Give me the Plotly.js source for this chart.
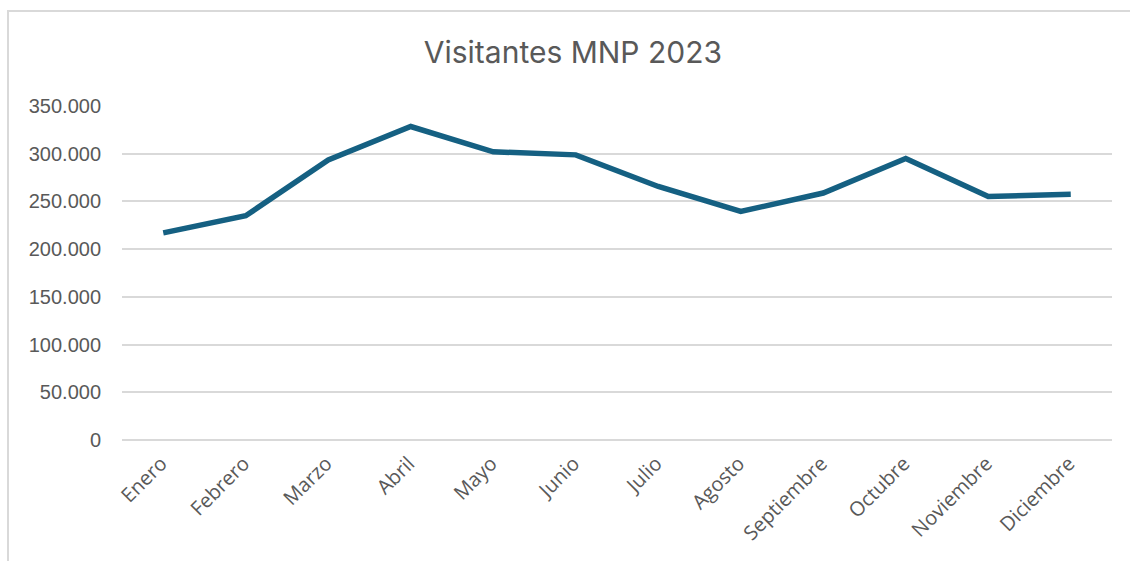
<!DOCTYPE html>
<html>
<head>
<meta charset="utf-8">
<script src="https://cdn.plot.ly/plotly-3.0.1.min.js"></script>
<style>
  html, body { margin: 0; padding: 0; background: #fff; }
  #wrap { position: relative; width: 1130px; height: 561px; overflow: hidden; }
  #frame { position: absolute; left: 7px; top: 10px; width: 1140px; height: 600px;
           border-left: 2px solid #d9d9d9; border-top: 2px solid #d9d9d9; pointer-events: none; }
  #chart { position: absolute; left: 0; top: 0; width: 1130px; height: 561px; }
</style>
</head>
<body>
<div id="wrap">
  <div id="chart"></div>
  <div id="frame"></div>
</div>
<script>
const months = ["Enero", "Febrero", "Marzo", "Abril", "Mayo", "Junio", "Julio",
                "Agosto", "Septiembre", "Octubre", "Noviembre", "Diciembre"];
const visitors = [217000, 235000, 293500, 328500, 302000, 298800, 265700,
                  239500, 258800, 295000, 255200, 257500];
const yTickVals = [0, 50000, 100000, 150000, 200000, 250000, 300000, 350000];
const yTickText = ["0", "50.000", "100.000", "150.000", "200.000", "250.000", "300.000", "350.000"];

const trace = {
  x: months,
  y: visitors,
  type: "scatter",
  mode: "lines",
  line: { color: "#156082", width: 5.5 },
  hoverinfo: "x+y"
};

const layout = {
  width: 1130,
  height: 561,
  margin: { l: 122, r: 18, t: 106, b: 121 },
  paper_bgcolor: "#ffffff",
  plot_bgcolor: "#ffffff",
  showlegend: false,
  title: {
    text: "Visitantes MNP 2023",
    font: { family: "Inter, 'Open Sans', sans-serif", size: 30, color: "#595959" },
    x: 0.507, xref: "container", xanchor: "center",
    y: 0.907, yref: "container", yanchor: "middle"
  },
  xaxis: {
    type: "category",
    range: [-0.5, 11.5],
    tickangle: -45,
    showgrid: false,
    showline: false,
    zeroline: false,
    ticks: "",
    ticklabelstandoff: 7,
    ticklabelshift: -2,
    tickfont: { family: "'Open Sans', sans-serif", size: 20, color: "#595959" },
    fixedrange: true
  },
  yaxis: {
    range: [0, 350000],
    tickvals: yTickVals,
    ticktext: yTickText,
    showgrid: true,
    gridcolor: "#d9d9d9",
    gridwidth: 2,
    zeroline: true,
    zerolinecolor: "#d9d9d9",
    zerolinewidth: 2,
    showline: false,
    ticks: "",
    ticklabelstandoff: 20,
    tickfont: { family: "'Liberation Sans', Arial, sans-serif", size: 20, color: "#595959" },
    fixedrange: true
  }
};

Plotly.newPlot("chart", [trace], layout, { displayModeBar: false, staticPlot: true });
</script>
</body>
</html>
